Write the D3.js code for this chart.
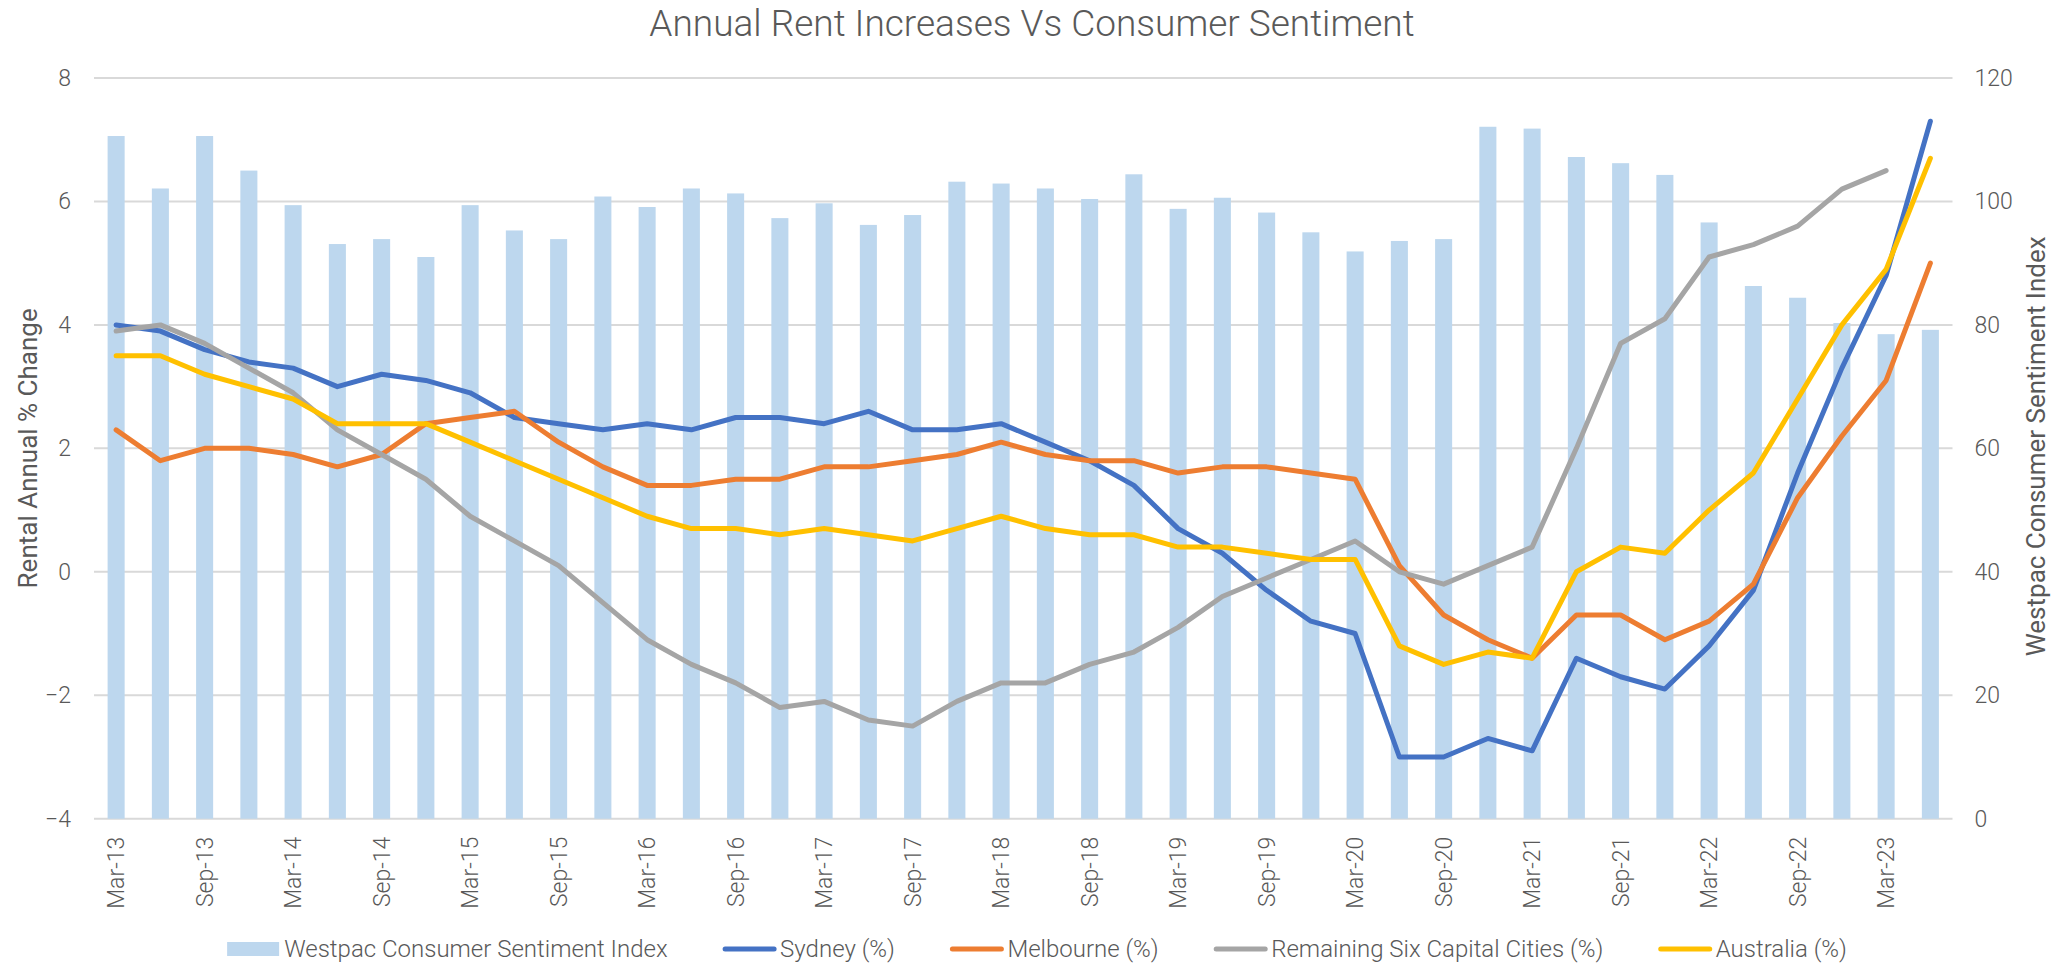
<!DOCTYPE html>
<html>
<head>
<meta charset="utf-8">
<script src="https://cdn.jsdelivr.net/npm/d3@7"></script>
<style>
  body { margin: 0; background: #fff; }
  text { font-family: Roboto, "Noto Sans", sans-serif; fill: #595959; }
</style>
</head>
<body>
<div class="CHART"></div>
<script>
// quarters, Mar-13 to Jun-23
var quarters = ["Mar-13","Jun-13","Sep-13","Dec-13","Mar-14","Jun-14","Sep-14","Dec-14",
  "Mar-15","Jun-15","Sep-15","Dec-15","Mar-16","Jun-16","Sep-16","Dec-16",
  "Mar-17","Jun-17","Sep-17","Dec-17","Mar-18","Jun-18","Sep-18","Dec-18",
  "Mar-19","Jun-19","Sep-19","Dec-19","Mar-20","Jun-20","Sep-20","Dec-20",
  "Mar-21","Jun-21","Sep-21","Dec-21","Mar-22","Jun-22","Sep-22","Dec-22",
  "Mar-23","Jun-23"];

// westpac index (right axis, bars)
var sentiment = [110.6,102.1,110.6,105.0,99.4,93.1,93.9,91.0,
  99.4,95.3,93.9,100.8,99.1,102.1,101.3,97.3,
  99.7,96.2,97.8,103.2,102.9,102.1,100.4,104.4,
  98.8,100.6,98.2,95.0,91.9,93.6,93.9,112.1,
  111.8,107.2,106.2,104.3,96.6,86.3,84.4,80.3,
  78.5,79.2];

// rental annual % change (left axis, lines)
var sydney = [4.0,3.9,3.6,3.4,3.3,3.0,3.2,3.1,2.9,2.5,2.4,2.3,2.4,2.3,2.5,2.5,
  2.4,2.6,2.3,2.3,2.4,2.1,1.8,1.4,0.7,0.3,-0.3,-0.8,-1.0,-3.0,-3.0,-2.7,
  -2.9,-1.4,-1.7,-1.9,-1.2,-0.3,1.6,3.3,4.8,7.3];
var melbourne = [2.3,1.8,2.0,2.0,1.9,1.7,1.9,2.4,2.5,2.6,2.1,1.7,1.4,1.4,1.5,1.5,
  1.7,1.7,1.8,1.9,2.1,1.9,1.8,1.8,1.6,1.7,1.7,1.6,1.5,0.1,-0.7,-1.1,
  -1.4,-0.7,-0.7,-1.1,-0.8,-0.2,1.2,2.2,3.1,5.0];
var remaining = [3.9,4.0,3.7,3.3,2.9,2.3,1.9,1.5,0.9,0.5,0.1,-0.5,-1.1,-1.5,-1.8,-2.2,
  -2.1,-2.4,-2.5,-2.1,-1.8,-1.8,-1.5,-1.3,-0.9,-0.4,-0.1,0.2,0.5,0.0,-0.2,0.1,
  0.4,2.0,3.7,4.1,5.1,5.3,5.6,6.2,6.5,null];
var australia = [3.5,3.5,3.2,3.0,2.8,2.4,2.4,2.4,2.1,1.8,1.5,1.2,0.9,0.7,0.7,0.6,
  0.7,0.6,0.5,0.7,0.9,0.7,0.6,0.6,0.4,0.4,0.3,0.2,0.2,-1.2,-1.5,-1.3,
  -1.4,0.0,0.4,0.3,1.0,1.6,2.8,4.0,4.9,6.7];

var leftTicks = [-4,-2,0,2,4,6,8];
var rightTicks = [0,20,40,60,80,100,120];

var lineSeries = [
  {name: "Sydney (%)", values: sydney, color: "#4472C4"},
  {name: "Melbourne (%)", values: melbourne, color: "#ED7D31"},
  {name: "Remaining Six Capital Cities (%)", values: remaining, color: "#A5A5A5"},
  {name: "Australia (%)", values: australia, color: "#FFC000"}
];

var W = 2059, H = 963;
var margin = {top: 78, right: 106.5, bottom: 144.3, left: 94};

var svg = d3.select(".CHART").append("svg")
  .attr("width", W)
  .attr("height", H);

// scales
var x = d3.scaleBand()
  .domain(quarters)
  .range([margin.left, W - margin.right])
  .paddingInner(0.615)
  .paddingOuter(0.3075);

var yL = d3.scaleLinear().domain([-4, 8]).range([H - margin.bottom, margin.top]);
var yR = d3.scaleLinear().domain([0, 120]).range([H - margin.bottom, margin.top]);

// gridlines
svg.append("g").selectAll("line")
  .data(leftTicks)
  .enter().append("line")
  .attr("x1", margin.left)
  .attr("x2", W - margin.right)
  .attr("y1", function(d) { return yL(d); })
  .attr("y2", function(d) { return yL(d); })
  .attr("stroke", "#D9D9D9")
  .attr("stroke-width", 2);

// bars
svg.append("g").selectAll("rect")
  .data(sentiment)
  .enter().append("rect")
  .attr("x", function(d, i) { return x(quarters[i]); })
  .attr("width", x.bandwidth())
  .attr("y", function(d) { return yR(d); })
  .attr("height", function(d) { return yR(0) - yR(d); })
  .attr("fill", "#BDD7EE");

// lines
var line = d3.line()
  .defined(function(d) { return d != null; })
  .x(function(d, i) { return x(quarters[i]) + x.bandwidth() / 2; })
  .y(function(d) { return yL(d); });

svg.append("g").selectAll("path")
  .data(lineSeries)
  .enter().append("path")
  .attr("d", function(s) { return line(s.values); })
  .attr("fill", "none")
  .attr("stroke", function(s) { return s.color; })
  .attr("stroke-width", 5)
  .attr("stroke-linejoin", "round")
  .attr("stroke-linecap", "round");

// left axis
var axL = d3.axisLeft(yL).tickValues(leftTicks).tickSize(0).tickPadding(23);
svg.append("g")
  .attr("transform", "translate(" + margin.left + ",0)")
  .call(axL)
  .call(function(g) { g.select(".domain").remove(); })
  .selectAll("text")
  .style("font-size", "23px").style("font-weight", 300).style("font-family", "Roboto").attr("fill", "#595959");

// right axis
var axR = d3.axisRight(yR).tickValues(rightTicks).tickSize(0).tickPadding(22);
svg.append("g")
  .attr("transform", "translate(" + (W - margin.right) + ",0)")
  .call(axR)
  .call(function(g) { g.select(".domain").remove(); })
  .selectAll("text")
  .style("font-size", "23px").style("font-weight", 300).style("font-family", "Roboto").attr("fill", "#595959");

// bottom axis, label every second quarter
var axB = d3.axisBottom(x)
  .tickValues(quarters.filter(function(d, i) { return i % 2 == 0; }))
  .tickSize(0);
svg.append("g")
  .attr("transform", "translate(0," + (H - margin.bottom) + ")")
  .call(axB)
  .call(function(g) { g.select(".domain").remove(); })
  .selectAll("text")
  .attr("transform", "rotate(-90)")
  .attr("x", -18)
  .attr("y", 0)
  .attr("dy", "0.35em")
  .style("text-anchor", "end")
  .style("font-size", "23px").style("font-weight", 300).style("font-family", "Roboto").attr("fill", "#595959");

// title
svg.append("text")
  .attr("x", 1032)
  .attr("y", 36)
  .attr("text-anchor", "middle")
  .style("font-size", "37px")
  .style("font-weight", 300)
  .text("Annual Rent Increases Vs Consumer Sentiment");

// axis titles
svg.append("text")
  .attr("transform", "translate(37," + ((yL(8) + yL(-4)) / 2) + ") rotate(-90)")
  .attr("text-anchor", "middle")
  .style("font-size", "26px")
  .text("Rental Annual % Change");

svg.append("text")
  .attr("transform", "translate(2045," + ((yL(8) + yL(-4)) / 2 - 2) + ") rotate(-90)")
  .attr("text-anchor", "middle")
  .style("font-size", "26px")
  .text("Westpac Consumer Sentiment Index");

// legend
var legendItems = [{name: "Westpac Consumer Sentiment Index", color: "#BDD7EE", bar: true}].concat(lineSeries);
var legend = svg.append("g");
var lx = 0, legY = 949;
var groups = legend.selectAll("g")
  .data(legendItems)
  .enter().append("g");

groups.each(function(d) {
  var g = d3.select(this);
  if (d.bar) {
    g.append("rect").attr("x", 0).attr("y", legY - 7).attr("width", 52).attr("height", 14).attr("fill", d.color);
  } else {
    g.append("line").attr("x1", 2).attr("x2", 51).attr("y1", legY).attr("y2", legY)
      .attr("stroke", d.color).attr("stroke-width", 5).attr("stroke-linecap", "round");
  }
  var t = g.append("text")
    .attr("x", 57)
    .attr("y", legY)
    .attr("dy", "0.35em")
    .style("font-size", "24px")
    .style("font-weight", 300)
    .text(d.name);
  d.w = 57 + t.node().getComputedTextLength();
});

var totalW = d3.sum(legendItems, function(d) { return d.w; }) + 55.5 * (legendItems.length - 1);
lx = 1037 - totalW / 2;
groups.attr("transform", function(d) {
  var tx = lx;
  lx += d.w + 55.5;
  return "translate(" + tx + ",0)";
});
</script>
</body>
</html>
